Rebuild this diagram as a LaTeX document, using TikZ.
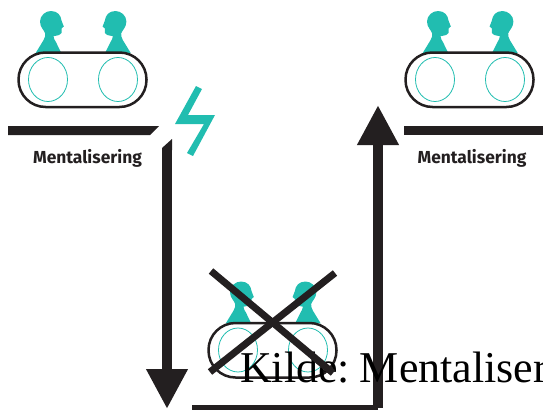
\documentclass[tikz,border=0pt]{standalone}
\usepackage{fontspec}
\usepackage{tikz}
\usetikzlibrary{arrows.meta}
\setmainfont[WordSpace=0.55]{Liberation Serif}
\newfontfamily\labelfont{Fira Sans}
\definecolor{tealc}{HTML}{21BDB0}
\definecolor{darkc}{HTML}{231F20}
\newcommand{\bustshape}{
    \fill [tealc] (-46.7,-26.7) -- (-39,-39.3) .. controls (-37.5,-42) and (-37,-44) .. (-37.3,-46)
        .. controls (-38,-49) and (-42.5,-52) .. (-42.5,-58)
        .. controls (-42.5,-64) and (-37,-68.5) .. (-31.5,-68.5)
        .. controls (-25,-68.5) and (-21.5,-64) .. (-21,-59)
        -- (-18.7,-53) -- (-21,-51) -- (-21,-46.5) .. controls (-21.5,-44.5) and (-24,-44.3) .. (-29,-43.3)
        .. controls (-29,-41) and (-27.5,-39) .. (-26.7,-37.7) -- (-21.3,-26.7) -- cycle;
}
\tikzset{
    bar/.style={fill=darkc},
    flow/.style={draw=darkc,line width=10pt,-{Triangle[width=39pt,length=40pt]}},
    cross/.style={draw=darkc,line width=7pt},
    caption/.style={font=\labelfont\bfseries\fontsize{17.4}{17.4}\selectfont,text=darkc,inner sep=0pt},
    couple/.pic={
        \bustshape
        \begin{scope}[xshift=1.4pt,xscale=-1]
            \bustshape
        \end{scope}
        \draw [darkc,line width=2.5pt,rounded corners=27pt] (-64,-27) rectangle (64,27.5);
        \draw [tealc,line width=0.8pt] (-34.5,0) ellipse (19.5 and 22);
        \draw [tealc,line width=0.8pt] (35.5,0) ellipse (19.5 and 22);
    }
}
\begin{document}
\begin{tikzpicture}[x=1pt,y=-1pt]
    \useasboundingbox (0,0) rectangle (543,410);
    \clip (0,0) rectangle (543,410);
    % top groups
    \pic at (82.5,79.5) {couple};
    \pic at (469.5,79.5) {couple};
    \fill [bar] (8,126) -- (159,126) -- (150,135) -- (8,135) -- cycle;
    \fill [bar] (404,126) rectangle (543,135);
    \node (leftcap) [caption] at (87.5,158) {Mentalisering};
    \node (rightcap) [caption] at (472,158) {Mentalisering};
    \fill [tealc] (196,86) -- (202,89) -- (188,115) -- (215,115) -- (193,156) -- (187,153) -- (204,124) -- (175,124) -- cycle;
    % flow
    \coordinate (downstart) at (167,149);
    \coordinate (downend) at (167,409);
    \coordinate (upstart) at (378,407.5);
    \coordinate (upend) at (378,105);
    \coordinate (floorstart) at (192,407.5);
    \fill [bar] (172,139) -- (172,150) -- (162,150) -- (162,148) -- cycle;
    \draw [flow] (downstart) -- (downend);
    \draw [flow] (upstart) -- (upend);
    \draw [darkc,line width=5pt] (floorstart) -- (upstart);
    % bottom group
    \pic at (272.5,350) {couple};
    \node (source) [anchor=base west,inner sep=0pt,font=\fontsize{44}{44}\selectfont] at (240,382) {Kilde: Mentaliser};
    \coordinate (crossa) at (211,271);
    \coordinate (crossb) at (333,373);
    \coordinate (crossc) at (335,273);
    \coordinate (crossd) at (210,372);
    \draw [cross] (crossa) -- (crossb);
    \draw [cross] (crossc) -- (crossd);
\end{tikzpicture}
\end{document}
